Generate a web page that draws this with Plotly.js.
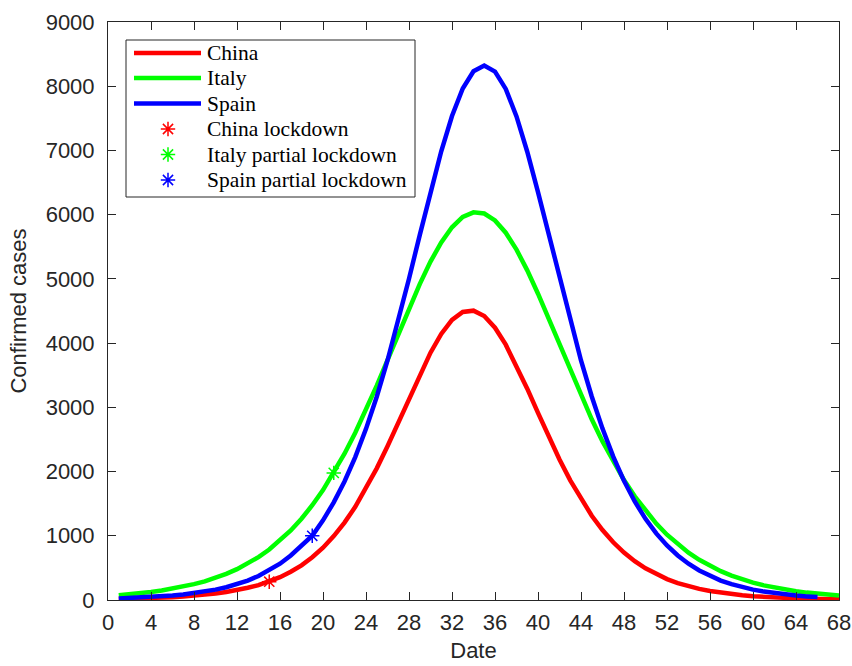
<!DOCTYPE html>
<html>
<head>
<meta charset="utf-8">
<script src="https://cdn.plot.ly/plotly-3.0.1.min.js"></script>
<style>
  html, body { margin: 0; padding: 0; background: #ffffff; }
  #chart { width: 852px; height: 666px; }
</style>
</head>
<body>
<div id="chart"></div>
<script>
// Day index for each series
const days = [1, 2, 3, 4, 5, 6, 7, 8, 9, 10, 11, 12, 13, 14, 15, 16, 17, 18, 19, 20,
  21, 22, 23, 24, 25, 26, 27, 28, 29, 30, 31, 32, 33, 34, 35, 36, 37, 38, 39, 40,
  41, 42, 43, 44, 45, 46, 47, 48, 49, 50, 51, 52, 53, 54, 55, 56, 57, 58, 59, 60,
  61, 62, 63, 64, 65, 66, 67, 68];

// Confirmed cases per day
const china = [15, 18, 23, 28, 35, 44, 54, 67, 83, 102,
  126, 155, 190, 232, 285, 355, 440, 540, 665, 815,
  995, 1205, 1450, 1735, 2050, 2395, 2765, 3143, 3510, 3851,
  4142, 4360, 4484, 4505, 4421, 4240, 3976, 3652, 3291, 2915,
  2543, 2189, 1863, 1570, 1312, 1089, 899, 738, 604, 493,
  401, 325, 264, 213, 173, 139, 112, 91, 73, 59,
  47, 38, 31, 25, 20, 16, 13, 10];

const italy = [73, 87, 104, 124, 147, 175, 208, 247, 289, 343,
  406, 480, 566, 668, 786, 924, 1083, 1266, 1475, 1712,
  1979, 2277, 2604, 2959, 3338, 3734, 4136, 4536, 4919, 5269,
  5568, 5804, 5964, 6036, 6018, 5910, 5719, 5456, 5133, 4769,
  4378, 3975, 3573, 3184, 2814, 2470, 2155, 1869, 1614, 1388,
  1190, 1017, 866, 737, 625, 530, 449, 379, 320, 270,
  228, 192, 162, 136, 115, 97, 81, 68];

const spain = [24, 30, 37, 45, 56, 69, 86, 106, 131, 162,
  199, 246, 303, 374, 460, 565, 693, 849, 1000, 1240,
  1520, 1845, 2225, 2665, 3165, 3730, 4345, 5003, 5682, 6356,
  6987, 7536, 7965, 8232, 8322, 8228, 7958, 7530, 6980, 6350,
  5680, 5000, 4345, 3730, 3169, 2669, 2232, 1855, 1534, 1264,
  1037, 849, 693, 565, 460, 374, 303, 246, 199, 162,
  131, 106, 86, 69, 56, 45];

// Lockdown dates (day index) per country
const lockdownDays = [15, 21, 19];

const seriesNames = ['China', 'Italy', 'Spain'];
const lockdownNames = ['China lockdown', 'Italy partial lockdown', 'Spain partial lockdown'];

const xTicks = [0, 4, 8, 12, 16, 20, 24, 28, 32, 36, 40, 44, 48, 52, 56, 60, 64, 68];
const yTicks = [0, 1000, 2000, 3000, 4000, 5000, 6000, 7000, 8000, 9000];

// ---- styling ----
const colors = ['#ff0000', '#00ff00', '#0000ff'];
const seriesData = [china, italy, spain];
const ink = '#262626';
const sans = 'Liberation Sans, Arial, sans-serif';
const serif = 'Liberation Serif, Times New Roman, serif';

// plot area in pixels
const plotL = 108, plotT = 22, plotW = 731, plotH = 578;
const W = 852, H = 666;
const px = x => (x - plotL) / plotW;
const py = y => (plotT + plotH - y) / plotH;

const traces = [];
seriesData.forEach((vals, i) => {
  traces.push({
    x: days.slice(0, vals.length),
    y: vals,
    type: 'scatter',
    mode: 'lines',
    name: seriesNames[i],
    line: { color: colors[i], width: 4.5 },
    showlegend: false,
    hoverinfo: 'x+y'
  });
});
seriesData.forEach((vals, i) => {
  const d = lockdownDays[i];
  traces.push({
    x: [d],
    y: [vals[days.indexOf(d)]],
    type: 'scatter',
    mode: 'markers',
    name: lockdownNames[i],
    marker: { symbol: 'asterisk-open', size: 12, color: colors[i], line: { color: colors[i], width: 1.5 } },
    showlegend: false
  });
});

// ---- legend box drawn in paper coordinates ----
const rowY = [53, 78, 103.5, 129, 154.5, 180];
const shapes = [{
  type: 'rect', xref: 'paper', yref: 'paper',
  x0: px(126), x1: px(415), y0: py(197), y1: py(40),
  line: { color: ink, width: 1 }, fillcolor: '#ffffff', layer: 'below'
}];
const annotations = [];
seriesNames.forEach((n, i) => {
  shapes.push({
    type: 'line', xref: 'paper', yref: 'paper',
    x0: px(134), x1: px(201), y0: py(rowY[i]), y1: py(rowY[i]),
    line: { color: colors[i], width: 4.5 }
  });
});
const legendLabels = seriesNames.concat(lockdownNames);
legendLabels.forEach((t, i) => {
  annotations.push({
    text: t, xref: 'paper', yref: 'paper',
    x: px(205), y: py(rowY[i]), xanchor: 'left', yanchor: 'middle',
    showarrow: false, font: { family: serif, size: 21.5, color: '#000000' }
  });
});
// legend asterisks on an overlay axis spanning the plot area
lockdownNames.forEach((n, i) => {
  traces.push({
    x: [px(168)], y: [py(rowY[i + 3])],
    xaxis: 'x2', yaxis: 'y2',
    type: 'scatter', mode: 'markers',
    marker: { symbol: 'asterisk-open', size: 12, color: colors[i], line: { color: colors[i], width: 1.5 } },
    showlegend: false, hoverinfo: 'skip'
  });
});

const axisCommon = {
  ticks: 'inside', ticklen: 8, tickwidth: 1, tickcolor: ink,
  showline: true, linecolor: ink, linewidth: 1, mirror: 'ticks',
  showgrid: false, zeroline: false,
  tickfont: { family: sans, size: 22, color: ink },
  tickmode: 'array', tickformat: 'd'
};

const layout = {
  width: W, height: H,
  margin: { l: plotL, r: W - plotL - plotW, t: plotT, b: H - plotT - plotH, pad: 0 },
  paper_bgcolor: '#ffffff', plot_bgcolor: '#ffffff',
  showlegend: false,
  xaxis: Object.assign({}, axisCommon, {
    range: [0, 68], tickvals: xTicks, ticktext: xTicks.map(String),
    ticklabelstandoff: 3,
    title: { text: 'Date', font: { family: sans, size: 22, color: ink }, standoff: 8 }
  }),
  yaxis: Object.assign({}, axisCommon, {
    range: [0, 9000], tickvals: yTicks, ticktext: yTicks.map(String),
    ticklabelstandoff: 8,
    title: { text: 'Confirmed cases', font: { family: sans, size: 22, color: ink }, standoff: 12 }
  }),
  xaxis2: { overlaying: 'x', range: [0, 1], visible: false, fixedrange: true },
  yaxis2: { overlaying: 'y', range: [0, 1], visible: false, fixedrange: true },
  shapes: shapes,
  annotations: annotations
};

Plotly.newPlot('chart', traces, layout, { displayModeBar: false, staticPlot: true });
</script>
</body>
</html>
